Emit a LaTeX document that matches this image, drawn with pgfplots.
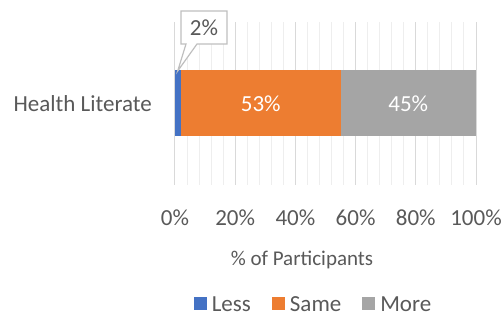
\documentclass[border=0pt]{standalone}
\usepackage{fontspec}
\setmainfont{Carlito}
\usepackage{pgfplots}
\pgfplotsset{compat=1.18}
\definecolor{cLess}{HTML}{4472C4}
\definecolor{cSame}{HTML}{ED7D31}
\definecolor{cMore}{HTML}{A5A5A5}
\definecolor{txt}{HTML}{595959}
\definecolor{gmaj}{HTML}{D9D9D9}
\definecolor{gmin}{HTML}{EEEEEE}
\definecolor{callout}{HTML}{BFBFBF}
\begin{document}
\begin{tikzpicture}
\useasboundingbox (0pt,0pt) rectangle (504pt,318pt);
\begin{axis}[
  at={(175pt,133pt)}, anchor=south west,
  scale only axis, width=301pt, height=163pt,
  xbar stacked, bar width=66pt,
  xmin=0, xmax=100, ymin=-1, ymax=1,
  xtick={0,20,40,60,80,100},
  minor x tick num=4,
  xmajorgrids, xminorgrids,
  major grid style={draw=gmaj, line width=1pt},
  minor grid style={draw=gmin, line width=1pt},
  ytick={0}, yticklabels={Health Literate},
  axis lines*=left,
  axis line style={draw=none},
  tick style={draw=none},
  /pgf/number format/assume math mode=true,
  xticklabel={\pgfmathprintnumber{\tick}\%},
  xticklabel style={anchor=center, yshift=-33pt, inner sep=0pt},
  yticklabel style={anchor=east, inner sep=0pt, xshift=-23pt},
  ticklabel style={font=\fontsize{23}{27}\selectfont, text=txt},
  xlabel={\% of Participants},
  xlabel style={at={(axis description cs:0.422,0)}, anchor=center, yshift=-75pt, font=\fontsize{21}{25}\selectfont, text=txt},
  legend columns=3,
  legend style={at={(axis description cs:0.457,0)}, anchor=center, yshift=-119.5pt,
    draw=none, fill=none, font=\fontsize{23}{27}\selectfont, text=txt,
    inner sep=0pt, nodes={inner sep=0pt},
    /tikz/every odd column/.append style={column sep=5pt},
    /tikz/every even column/.append style={column sep=21pt}},
]
\addplot[fill=cLess, draw=none, legend image code/.code={\fill[cLess] (0pt,-6pt) rectangle (13pt,7pt);}] coordinates {(2,0)};
\addplot[fill=cSame, draw=none, legend image code/.code={\fill[cSame] (0pt,-6pt) rectangle (13pt,7pt);}] coordinates {(53,0)};
\addplot[fill=cMore, draw=none, legend image code/.code={\fill[cMore] (0pt,-6pt) rectangle (13pt,7pt);}] coordinates {(45,0)};
\legend{Less, Same, More}
\coordinate (lSame) at (axis cs:28.5,0);
\coordinate (lMore) at (axis cs:77.5,0);
\end{axis}
\node[text=white, font=\fontsize{23}{27}\selectfont] at (lSame) {53\%};
\node[text=white, font=\fontsize{23}{27}\selectfont] at (lMore) {45\%};
\draw[fill=white, draw=callout, line width=1.2pt, line join=miter]
  (181pt,274pt) -- (186pt,274pt) -- (177.7pt,247pt) -- (197pt,274pt) -- (227pt,274pt)
  -- (227pt,307pt) -- (181pt,307pt) -- cycle;
\node[text=txt, font=\fontsize{23}{27}\selectfont] at (204pt,290.5pt) {2\%};
\end{tikzpicture}
\end{document}
